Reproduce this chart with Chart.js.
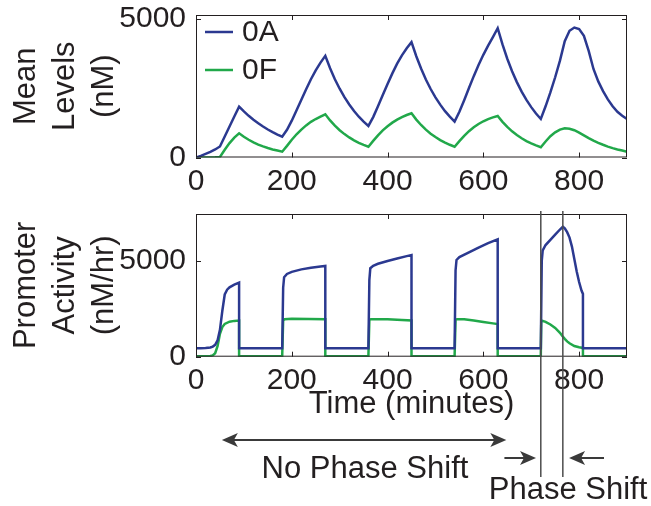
<!DOCTYPE html>
<html>
<head>
<meta charset="utf-8">
<script src="https://cdn.jsdelivr.net/npm/chart.js@4.4.0/dist/chart.umd.min.js"></script>
<style>
  html, body { margin: 0; padding: 0; background: #fff; }
  #wrap { position: relative; width: 651px; height: 506px; }
  canvas { position: absolute; left: 0; }
</style>
</head>
<body>
<div id="wrap">
  <canvas id="levelsChart" width="651" height="200" style="top:0"></canvas>
  <canvas id="promoterChart" width="651" height="306" style="top:200px"></canvas>
</div>
<script>
// series
const seriesNames = ['0A', '0F'];
const seriesColors = ['#2b3990', '#21a84a'];

// tick labels
const timeTicks = [0, 200, 400, 600, 800];
const levelTicks = [0, 5000];
const promoterTicks = [0, 5000];

// top panel: mean levels (nM), sampled every 10 minutes
const levelTime = [0,10,20,30,40,50,60,70,80,90,100,110,120,130,140,150,160,170,180,190,200,210,220,230,240,250,260,270,280,290,300,310,320,330,340,350,360,370,380,390,400,410,420,430,440,450,460,470,480,490,500,510,520,530,540,550,560,570,580,590,600,610,620,630,640,650,660,670,680,690,700,710,720,730,740,750,760,770,780,790,800,810,820,830,840,850,860,870,880,890,900];
const levelA = [0,60,130,200,290,400,760,1120,1480,1838,1664,1507,1364,1235,1118,1012,917,830,752,1000,1330,1710,2090,2470,2830,3150,3430,3672,3225,2830,2485,2180,1915,1680,1475,1295,1140,1460,1850,2260,2660,3040,3390,3690,3950,4168,3660,3215,2820,2475,2175,1910,1675,1475,1295,1650,2070,2510,2940,3340,3710,4040,4350,4674,4085,3570,3120,2725,2380,2080,1820,1590,1393,1850,2350,2900,3500,4200,4580,4696,4640,4400,3850,3200,2750,2400,2100,1850,1650,1510,1393];
const levelF = [0,0,0,0,5,20,280,520,720,875,748,640,547,468,400,342,292,250,210,420,640,840,1010,1160,1290,1390,1480,1563,1340,1150,985,845,725,620,530,455,390,600,800,980,1130,1260,1370,1460,1535,1600,1370,1175,1005,860,740,630,540,460,390,590,780,950,1090,1210,1310,1390,1450,1500,1290,1105,945,810,695,595,510,435,370,580,770,910,1010,1055,1040,985,900,800,700,610,530,460,395,340,290,250,210];

// bottom panel: promoter activity (nM/hr)
const promTimeA = [0,10,20,30,35,40,45,50,55,60,65,70,80,90,90,180,182,184,190,200,220,240,260,270,270,360,362,364,370,380,400,420,440,450,450,540,542,544,550,570,590,610,630,630,720,722,724,730,740,750,760,766,770,775,780,785,790,795,800,805,808,808,900];
const promA = [440,440,450,480,530,620,850,1400,2400,3250,3500,3620,3760,3870,440,440,3600,4150,4320,4430,4560,4640,4710,4740,440,440,4000,4620,4750,4850,5000,5130,5250,5310,440,440,4500,5050,5200,5450,5700,5930,6130,440,440,5000,5550,5830,6100,6370,6640,6790,6700,6500,6220,5750,5100,4450,3900,3450,3280,440,440];
const promTimeF = [0,30,35,40,45,50,55,60,70,80,90,90,180,182,185,200,270,270,360,362,365,400,430,450,450,540,542,545,560,580,600,620,630,630,720,721,730,740,750,760,765,770,775,780,790,800,808,808,900];
const promF = [30,40,70,180,550,1200,1550,1710,1830,1870,1890,30,30,1900,1950,1975,1960,30,30,1920,1960,1960,1920,1890,30,30,1930,1960,1950,1890,1810,1740,1700,30,30,1890,1820,1680,1500,1250,1080,930,800,700,560,490,460,30,30];

// annotation positions (minutes)
const phaseLines = [720, 766];
const noShiftSpan = [54, 648];
const shiftArrowRight = [644, 710];
const shiftArrowLeft = [852, 779];

const family = '"Liberation Sans", Arial, Helvetica, sans-serif';
const ink = '#231f20';
const tickFont = { family: family, size: 30 };
const titleFont = { family: family, size: 31, lineHeight: 1.26 };

function pts(xs, ys) {
  return xs.map((t, i) => ({ x: t, y: ys[i] }));
}

function lineSet(label, xs, ys, color) {
  return {
    label: label,
    data: pts(xs, ys),
    borderColor: color,
    backgroundColor: color,
    borderWidth: 2.5,
    pointRadius: 0,
    tension: 0,
    fill: false
  };
}

// box with inward ticks, like the original plotting tool
const frame = {
  id: 'frame',
  afterDatasetsDraw(chart) {
    const { ctx, chartArea: a, scales } = chart;
    const x = scales.x, y = scales.y;
    ctx.save();
    ctx.strokeStyle = ink;
    ctx.lineWidth = 1;
    ctx.strokeRect(a.left + 0.5, a.top + 0.5, a.width - 1, a.height - 1);
    ctx.beginPath();
    x.ticks.forEach(t => {
      const px = Math.round(x.getPixelForValue(t.value)) + 0.5;
      ctx.moveTo(px, a.bottom); ctx.lineTo(px, a.bottom - 5);
      ctx.moveTo(px, a.top); ctx.lineTo(px, a.top + 5);
    });
    y.ticks.forEach(t => {
      const py = Math.round(y.getPixelForValue(t.value)) + 0.5;
      ctx.moveTo(a.left, py); ctx.lineTo(a.left + 5, py);
      ctx.moveTo(a.right, py); ctx.lineTo(a.right - 5, py);
    });
    ctx.stroke();
    ctx.restore();
  }
};

// legend in the top-left corner of the plot box
const cornerLegend = {
  id: 'cornerLegend',
  afterDatasetsDraw(chart) {
    const { ctx, chartArea: a } = chart;
    ctx.save();
    ctx.font = '30px ' + family;
    ctx.textAlign = 'left';
    ctx.textBaseline = 'middle';
    chart.data.datasets.forEach((ds, i) => {
      const y = a.top + 17 + i * 38;
      ctx.strokeStyle = ds.borderColor;
      ctx.lineWidth = ds.borderWidth;
      ctx.beginPath();
      ctx.moveTo(a.left + 9, y);
      ctx.lineTo(a.left + 37, y);
      ctx.stroke();
      ctx.fillStyle = ink;
      ctx.fillText(ds.label, a.left + 46, y + 1);
    });
    ctx.restore();
  }
};

function arrowHead(ctx, x, y, dir) {
  ctx.beginPath();
  ctx.moveTo(x, y);
  ctx.lineTo(x - dir * 16, y - 7);
  ctx.lineTo(x - dir * 12, y);
  ctx.lineTo(x - dir * 16, y + 7);
  ctx.closePath();
  ctx.fill();
}

const phaseNotes = {
  id: 'phaseNotes',
  afterDraw(chart) {
    const { ctx, chartArea: a, scales: { x } } = chart;
    ctx.save();
    // phase lines
    ctx.strokeStyle = '#4d4d4d';
    ctx.lineWidth = 1.5;
    ctx.beginPath();
    phaseLines.forEach(v => {
      const px = x.getPixelForValue(v);
      ctx.moveTo(px, a.top - 3);
      ctx.lineTo(px, 277);
    });
    ctx.stroke();

    // double arrow
    ctx.strokeStyle = '#3a3a3a';
    ctx.fillStyle = '#3a3a3a';
    ctx.lineWidth = 2;
    const x0 = x.getPixelForValue(noShiftSpan[0]);
    const x1 = x.getPixelForValue(noShiftSpan[1]);
    ctx.beginPath();
    ctx.moveTo(x0 + 8, 240); ctx.lineTo(x1 - 8, 240);
    ctx.stroke();
    arrowHead(ctx, x0, 240, -1);
    arrowHead(ctx, x1, 240, 1);

    // phase-shift arrows
    [shiftArrowRight, shiftArrowLeft].forEach(([from, to]) => {
      const p0 = x.getPixelForValue(from), p1 = x.getPixelForValue(to);
      const dir = p1 > p0 ? 1 : -1;
      ctx.beginPath();
      ctx.moveTo(p0, 258); ctx.lineTo(p1 - dir * 8, 258);
      ctx.stroke();
      arrowHead(ctx, p1, 258, dir);
    });

    // labels
    ctx.fillStyle = ink;
    ctx.font = '31px ' + family;
    ctx.textAlign = 'center';
    ctx.textBaseline = 'middle';
    ctx.fillText('No Phase Shift', 365, 269);
    ctx.fillText('Phase Shift', 568, 290);
    ctx.restore();
  }
};

function xScale(height) {
  return {
    type: 'linear',
    min: 0,
    max: 900,
    afterBuildTicks: s => { s.ticks = timeTicks.map(v => ({ value: v })); },
    afterFit: s => { s.height = height; s.paddingLeft = 0; s.paddingRight = 0; },
    grid: { display: false, drawTicks: false },
    border: { display: false },
    ticks: { font: tickFont, color: ink, padding: 6, maxRotation: 0, callback: v => String(v) }
  };
}

function yScale(max, ticks, title) {
  return {
    min: 0,
    max: max,
    afterBuildTicks: s => { s.ticks = ticks.map(v => ({ value: v })); },
    afterFit: s => { s.width = 196; s.paddingTop = 0; s.paddingBottom = 0; },
    grid: { display: false, drawTicks: false },
    border: { display: false },
    ticks: { font: tickFont, color: ink, padding: 10, callback: v => String(v) },
    title: { display: true, text: title, font: titleFont, color: ink, padding: { top: 7, bottom: 0 } }
  };
}

// Mean levels
new Chart(document.getElementById('levelsChart').getContext('2d'), {
  type: 'line',
  data: {
    datasets: [
      lineSet(seriesNames[0], levelTime, levelA, seriesColors[0]),
      lineSet(seriesNames[1], levelTime, levelF, seriesColors[1])
    ]
  },
  options: {
    responsive: false,
    animation: false,
    layout: { padding: { top: 15, right: 24, bottom: 0, left: 0 } },
    scales: {
      x: xScale(42.5),
      y: yScale(5150, levelTicks, ['Mean', 'Levels', '(nM)'])
    },
    plugins: {
      legend: { display: false },
      tooltip: { enabled: false }
    }
  },
  plugins: [frame, cornerLegend]
});

// Promoter activity
new Chart(document.getElementById('promoterChart').getContext('2d'), {
  type: 'line',
  data: {
    datasets: [
      lineSet(seriesNames[0], promTimeA, promA, seriesColors[0]),
      lineSet(seriesNames[1], promTimeF, promF, seriesColors[1])
    ]
  },
  options: {
    responsive: false,
    animation: false,
    layout: { padding: { top: 14, right: 24, bottom: 83.4, left: 0 } },
    scales: {
      x: Object.assign(xScale(65.9), {
        title: { display: true, text: 'Time (minutes)', font: { family: family, size: 31, lineHeight: 1.2 }, color: ink, padding: { top: 0, bottom: 0 } }
      }),
      y: yScale(7450, promoterTicks, ['Promoter', 'Activity', '(nM/hr)'])
    },
    plugins: {
      legend: { display: false },
      tooltip: { enabled: false }
    }
  },
  plugins: [frame, phaseNotes]
});
</script>
</body>
</html>
